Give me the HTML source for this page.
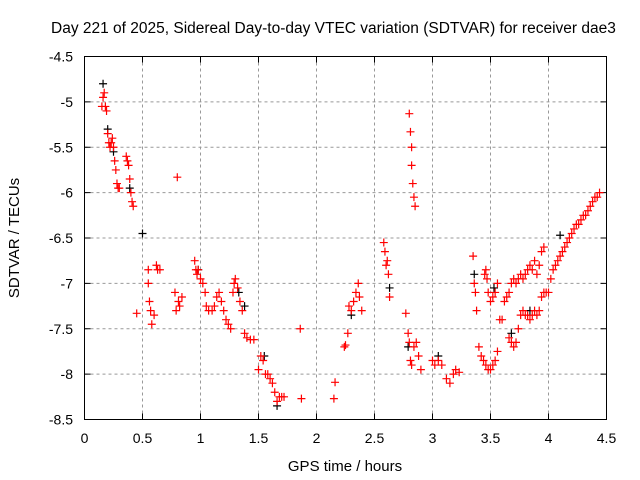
<!DOCTYPE html>
<html><head><meta charset="utf-8"><style>
body{margin:0;background:#fff;}
svg{display:block;font-family:"Liberation Sans",sans-serif;}
</style></head><body>
<svg id="chart" width="640" height="480">
<text x="51" y="33" font-size="15.5" text-anchor="start">Day 221 of 2025, Sidereal Day-to-day VTEC variation (SDTVAR) for receiver dae3</text>
<text x="345" y="471" font-size="15" text-anchor="middle">GPS time / hours</text>
<text x="19" y="238" font-size="15" text-anchor="middle" transform="rotate(-90 19 238)">SDTVAR / TECUs</text>
<g id="grid"></g><g id="ticks"></g><g id="marks"></g>
<rect x="84.5" y="56.5" width="522" height="363" fill="none" stroke="#000"/>
</svg>
<script>
const xTicks=[0,0.5,1,1.5,2,2.5,3,3.5,4,4.5];
const yTicks=[-4.5,-5,-5.5,-6,-6.5,-7,-7.5,-8,-8.5];
const blackT=[0.16,0.2,0.25,0.39,0.5,0.98,1.33,1.38,1.55,1.66,2.3,2.63,2.79,3.05,3.36,3.53,3.68,3.84,4.1];
const blackV=[-4.8,-5.3,-5.55,-5.95,-6.45,-6.85,-7.1,-7.25,-7.8,-8.35,-7.35,-7.05,-7.7,-7.8,-6.9,-7.05,-7.55,-7.3,-6.47];
const redT=[0.15,0.16,0.17,0.18,0.19,0.2,0.21,0.22,0.23,0.24,0.25,0.26,0.27,0.28,0.29,0.3,
0.36,0.37,0.38,0.39,0.4,0.41,0.42,
0.45,0.55,0.55,0.56,0.57,0.58,0.6,0.62,0.63,0.65,
0.78,0.79,0.8,0.81,0.82,0.84,
0.95,0.96,0.97,0.98,1.0,1.02,1.04,1.05,1.07,1.1,1.12,1.14,1.16,1.18,1.2,1.22,1.24,1.26,1.28,1.29,1.3,1.32,1.34,1.36,1.38,1.4,1.43,1.46,1.5,1.52,1.54,1.56,1.58,1.6,1.62,1.64,1.66,1.68,1.7,1.72,
1.86,1.87,2.15,2.16,2.24,2.25,2.27,2.28,2.3,2.32,2.34,2.36,2.37,2.39,
2.58,2.59,2.6,2.61,2.62,2.63,
2.77,2.79,2.8,2.81,2.82,2.8,2.81,2.82,2.82,2.83,2.84,2.85,2.84,2.86,2.88,2.9,
3.0,3.02,3.05,3.08,3.12,3.15,3.18,3.2,3.23,
3.35,3.36,3.37,3.38,3.4,3.42,3.44,3.45,3.46,3.47,3.48,3.5,3.52,3.54,3.56,3.46,3.48,3.5,3.52,3.54,3.56,3.58,3.6,3.62,3.64,3.66,3.68,3.7,3.72,3.74,3.76,3.78,3.8,3.82,3.84,3.86,3.88,3.9,3.92,3.94,3.96,
3.66,3.68,3.7,3.72,3.74,3.76,3.78,3.8,3.82,3.84,3.86,3.88,3.9,3.92,3.94,3.96,3.98,
4.0,4.02,4.04,4.06,4.08,4.1,4.12,4.14,4.16,4.18,4.2,4.22,4.24,4.26,4.28,4.3,4.32,4.34,4.36,4.38,4.4,4.42,4.44];
const redV=[-5.05,-4.95,-4.9,-5.05,-5.1,-5.35,-5.45,-5.5,-5.45,-5.4,-5.5,-5.65,-5.75,-5.9,-5.95,-5.95,
-5.6,-5.65,-5.7,-5.85,-6.0,-6.1,-6.15,
-7.33,-6.85,-7.0,-7.2,-7.3,-7.45,-7.35,-6.8,-6.85,-6.85,
-7.1,-7.3,-5.83,-7.2,-7.25,-7.15,
-6.75,-6.85,-6.9,-6.85,-6.95,-7.0,-7.1,-7.25,-7.3,-7.3,-7.25,-7.15,-7.1,-7.2,-7.3,-7.4,-7.45,-7.5,-7.1,-7.0,-6.95,-7.05,-7.2,-7.3,-7.55,-7.6,-7.62,-7.62,-7.95,-7.8,-7.85,-8.0,-8.0,-8.05,-8.1,-8.2,-8.3,-8.25,-8.25,-8.25,
-7.5,-8.27,-8.27,-8.09,-7.7,-7.68,-7.55,-7.25,-7.3,-7.2,-7.1,-7.0,-7.15,-7.3,
-6.55,-6.65,-6.8,-6.75,-6.9,-7.15,
-7.33,-7.55,-7.65,-7.85,-7.9,-5.13,-5.33,-5.5,-5.7,-5.9,-6.05,-6.15,-7.7,-7.65,-7.8,-7.95,
-7.85,-7.9,-7.85,-7.9,-8.05,-8.1,-8.0,-7.95,-7.98,
-6.7,-7.0,-7.1,-7.3,-7.7,-7.8,-7.85,-6.9,-6.85,-6.95,-7.1,-7.2,-7.15,-7.1,-7.0,-7.9,-7.95,-7.95,-7.9,-7.85,-7.75,-7.4,-7.4,-7.2,-7.15,-7.1,-7.0,-6.95,-7.0,-6.95,-6.9,-6.95,-6.9,-6.85,-6.8,-6.85,-6.75,-6.9,-6.8,-6.65,-6.6,
-7.6,-7.65,-7.7,-7.65,-7.5,-7.35,-7.3,-7.35,-7.35,-7.4,-7.35,-7.3,-7.35,-7.3,-7.15,-7.1,-7.1,
-7.1,-6.95,-6.85,-6.8,-6.75,-6.7,-6.65,-6.6,-6.55,-6.5,-6.45,-6.4,-6.35,-6.35,-6.3,-6.25,-6.25,-6.2,-6.15,-6.1,-6.05,-6.05,-6.0];
const NS="http://www.w3.org/2000/svg";
const X0=84.5,X1=606.5,Y0=56.5,Y1=419.5;
function xs(t){return X0+(t-0)/(4.5-0)*(X1-X0);}
function ys(v){return Y0+(-4.5-v)/(4)*(Y1-Y0);}
const grid=document.getElementById('grid'),ticks=document.getElementById('ticks'),marks=document.getElementById('marks');
function mk(tag,attrs,parent){const e=document.createElementNS(NS,tag);for(const k in attrs)e.setAttribute(k,attrs[k]);parent.appendChild(e);return e;}
xTicks.forEach(t=>{const x=xs(t);
 if(t>0&&t<4.5){const g=mk('line',{x1:x,x2:x,y1:Y0,y2:Y1,stroke:'#999','stroke-dasharray':'3,3'},grid);
 
 }
 mk('line',{x1:x,x2:x,y1:Y1,y2:Y1-6,stroke:'#000'},ticks);mk('line',{x1:x,x2:x,y1:Y0,y2:Y0+6,stroke:'#000'},ticks);
 const l=mk('text',{x:x,y:443,'font-size':14,'text-anchor':'middle'},ticks);l.textContent=String(t);
 
 });
yTicks.forEach(v=>{const y=ys(v);
 if(v<-4.5&&v>-8.5){const g=mk('line',{x1:X0,x2:X1,y1:y,y2:y,stroke:'#999','stroke-dasharray':'3,3'},grid);
 
 }
 mk('line',{x1:X0,x2:X0+6,y1:y,y2:y,stroke:'#000'},ticks);mk('line',{x1:X1,x2:X1-6,y1:y,y2:y,stroke:'#000'},ticks);
 const l=mk('text',{x:73,y:y+5,'font-size':14,'text-anchor':'end'},ticks);l.textContent=String(v);
 
 });
function cross(t,v,col,name){const x=xs(t),y=ys(v);
 const p=mk('path',{d:`M${x-4} ${y}H${x+4}M${x} ${y-4}V${y+4}`,stroke:col,'stroke-width':1.2,fill:'none'},marks);
 
 }
blackT.forEach((t,i)=>cross(t,blackV[i],'#000','black-point'));
redT.forEach((t,i)=>cross(t,redV[i],'#f00','red-point'));
</script>
</body></html>
